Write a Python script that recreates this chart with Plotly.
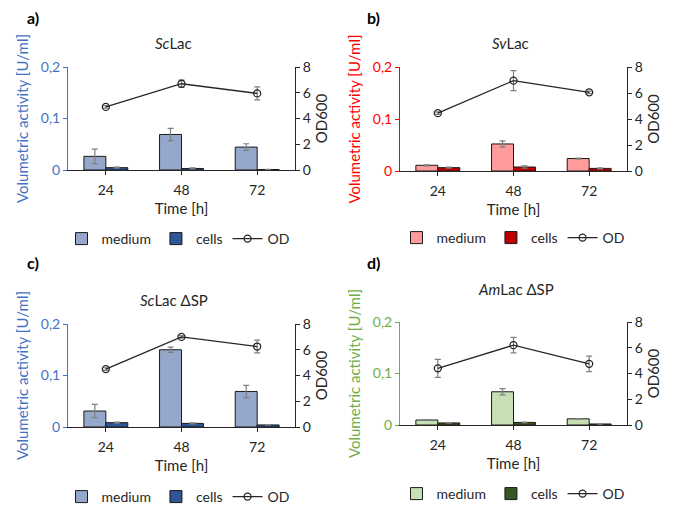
import plotly.graph_objects as go
from plotly.subplots import make_subplots

times = ["24", "48", "72"]

panel_titles = ["<i>Sc</i>Lac", "<i>Sv</i>Lac", "<i>Sc</i>Lac ΔSP", "<i>Am</i>Lac ΔSP"]
panel_labels = ["a)", "b)", "c)", "d)"]

medium_a = [0.0265, 0.069, 0.0445]
medium_a_err = [0.014, 0.012, 0.0065]
cells_a = [0.0045, 0.003, 0.001]
cells_a_err = [0.001, 0.001, 0.0005]
od_a = [4.9, 6.7, 5.95]
od_a_err = [0.1, 0.28, 0.5]

medium_b = [0.011, 0.052, 0.024]
medium_b_err = [0.001, 0.006, 0.001]
cells_b = [0.0064, 0.0077, 0.005]
cells_b_err = [0.001, 0.002, 0.001]
od_b = [4.45, 6.95, 6.05]
od_b_err = [0.1, 0.77, 0.1]

medium_c = [0.031, 0.150, 0.069]
medium_c_err = [0.013, 0.005, 0.012]
cells_c = [0.0084, 0.007, 0.004]
cells_c_err = [0.001, 0.001, 0.0005]
od_c = [4.5, 7.0, 6.25]
od_c_err = [0.1, 0.1, 0.5]

medium_d = [0.0097, 0.0645, 0.012]
medium_d_err = [0.0005, 0.006, 0.0005]
cells_d = [0.004, 0.005, 0.002]
cells_d_err = [0.0005, 0.0005, 0.0005]
od_d = [4.4, 6.2, 4.75]
od_d_err = [0.7, 0.6, 0.6]

medium_colors = ["#95A8CB", "#FF9B9B", "#95A8CB", "#C6E0B4"]
cells_colors = ["#2F5597", "#C00000", "#2F5597", "#385723"]
axis_colors = ["#4472C4", "#FF0000", "#4472C4", "#70AD47"]

data = [
    (medium_a, medium_a_err, cells_a, cells_a_err, od_a, od_a_err),
    (medium_b, medium_b_err, cells_b, cells_b_err, od_b, od_b_err),
    (medium_c, medium_c_err, cells_c, cells_c_err, od_c, od_c_err),
    (medium_d, medium_d_err, cells_d, cells_d_err, od_d, od_d_err),
]

W, H = 685, 523
FONT = "Lato"

fig = make_subplots(rows=2, cols=2, specs=[[{"secondary_y": True}, {"secondary_y": True}],
                                           [{"secondary_y": True}, {"secondary_y": True}]])

# pixel geometry of each plot area: (left, right, top, bottom)
boxes = [(68, 295, 67, 170), (400, 627, 67, 171), (68, 295, 324, 427), (400, 627, 322, 425)]
legend_pos = [(178, 239), (513, 238), (178, 497), (513, 494)]
title_pos = [(174, 43), (510, 43), (174, 300), (516, 289)]
label_pos = [(33, 17), (373, 17), (33, 262), (373, 262)]

for i, (med, mede, cel, cele, od, ode) in enumerate(data):
    r, c = i // 2 + 1, i % 2 + 1
    lg = "legend" if i == 0 else f"legend{i+1}"
    fig.add_trace(go.Bar(x=times, y=med, name="medium", legend=lg,
                         marker=dict(color=medium_colors[i], line=dict(color="#1a1a1a", width=1)),
                         error_y=dict(type="data", array=mede, color="#7f7f7f", thickness=1.2, width=3)),
                  row=r, col=c, secondary_y=False)
    fig.add_trace(go.Bar(x=times, y=cel, name="cells", legend=lg,
                         marker=dict(color=cells_colors[i], line=dict(color="#1a1a1a", width=1)),
                         error_y=dict(type="data", array=cele, color="#7f7f7f", thickness=1.2, width=3)),
                  row=r, col=c, secondary_y=False)
    fig.add_trace(go.Scatter(x=times, y=od, name="OD", legend=lg, mode="lines+markers",
                             line=dict(color="#262626", width=1.3),
                             marker=dict(symbol="circle-open", size=7, color="#262626", line=dict(width=1.3)),
                             error_y=dict(type="data", array=ode, color="#7f7f7f", thickness=1.2, width=3)),
                  row=r, col=c, secondary_y=True)

layout_updates = {}
annotations = []
for i in range(4):
    l, rgt, t, b = boxes[i]
    xd = [l / W, rgt / W]
    yd = [1 - b / H, 1 - t / H]
    n = "" if i == 0 else str(i + 1)
    xa = "xaxis" + n
    ya1 = "yaxis" + ("" if i == 0 else str(2 * i + 1))
    ya2 = "yaxis" + str(2 * i + 2)
    layout_updates[xa] = dict(domain=xd, range=[-0.5, 2.5], showline=True, linecolor="#262626",
                              linewidth=1, ticks="outside", ticklen=4, tickcolor="#262626",
                              ticklabelstandoff=3,
                              tickfont=dict(family=FONT, size=14, color="#262626"),
                              title=dict(text="Time [h]", font=dict(family=FONT, size=15, color="#262626"), standoff=6),
                              showgrid=False, zeroline=False, fixedrange=True, automargin=False)
    layout_updates[ya1] = dict(domain=yd, range=[0, 0.2], tickvals=[0, 0.1, 0.2],
                               ticktext=["0", "0,1", "0,2"], showline=True, linecolor=axis_colors[i],
                               linewidth=1, ticks="outside", ticklen=4, tickcolor=axis_colors[i],
                               tickfont=dict(family=FONT, size=14, color=axis_colors[i]),
                               title=dict(text="Volumetric activity [U/ml]",
                                          font=dict(family=FONT, size=15, color=axis_colors[i]), standoff=8),
                               showgrid=False, zeroline=False, automargin=False)
    layout_updates[ya2] = dict(range=[0, 8], tickvals=[0, 2, 4, 6, 8], showline=True,
                               linecolor="#262626", linewidth=1, ticks="outside", ticklen=4,
                               tickcolor="#262626",
                               tickfont=dict(family=FONT, size=14, color="#262626"),
                               title=dict(text="OD600", font=dict(family=FONT, size=15, color="#262626"), standoff=6),
                               showgrid=False, zeroline=False, automargin=False)
    lx, ly = legend_pos[i]
    lkey = "legend" if i == 0 else f"legend{i+1}"
    layout_updates[lkey] = dict(orientation="h", x=lx / W, y=1 - ly / H, xanchor="center", yanchor="middle",
                                font=dict(family=FONT, size=14, color="#262626"), bgcolor="rgba(0,0,0,0)",
                                itemwidth=30, tracegroupgap=0)
    tx, ty = title_pos[i]
    annotations.append(dict(text=panel_titles[i], x=tx / W, y=1 - ty / H, xref="paper", yref="paper",
                            showarrow=False, font=dict(family=FONT, size=15, color="#262626"),
                            xanchor="center", yanchor="middle"))
    px, py = label_pos[i]
    annotations.append(dict(text="<b>" + panel_labels[i] + "</b>", x=px / W, y=1 - py / H, xref="paper",
                            yref="paper", showarrow=False, font=dict(family=FONT, size=16, color="#000000"),
                            xanchor="center", yanchor="middle"))

fig.update_layout(**layout_updates)
fig.update_layout(width=W, height=H, margin=dict(l=0, r=0, t=0, b=0, autoexpand=False),
                  plot_bgcolor="white", paper_bgcolor="white", barmode="group", bargap=0.42,
                  bargroupgap=0, annotations=annotations, showlegend=True)

fig.write_html("out.html", config={"displayModeBar": False},
               post_script="document.body.style.margin='0';document.body.style.padding='0';"
                           "document.documentElement.style.overflow='hidden';")
